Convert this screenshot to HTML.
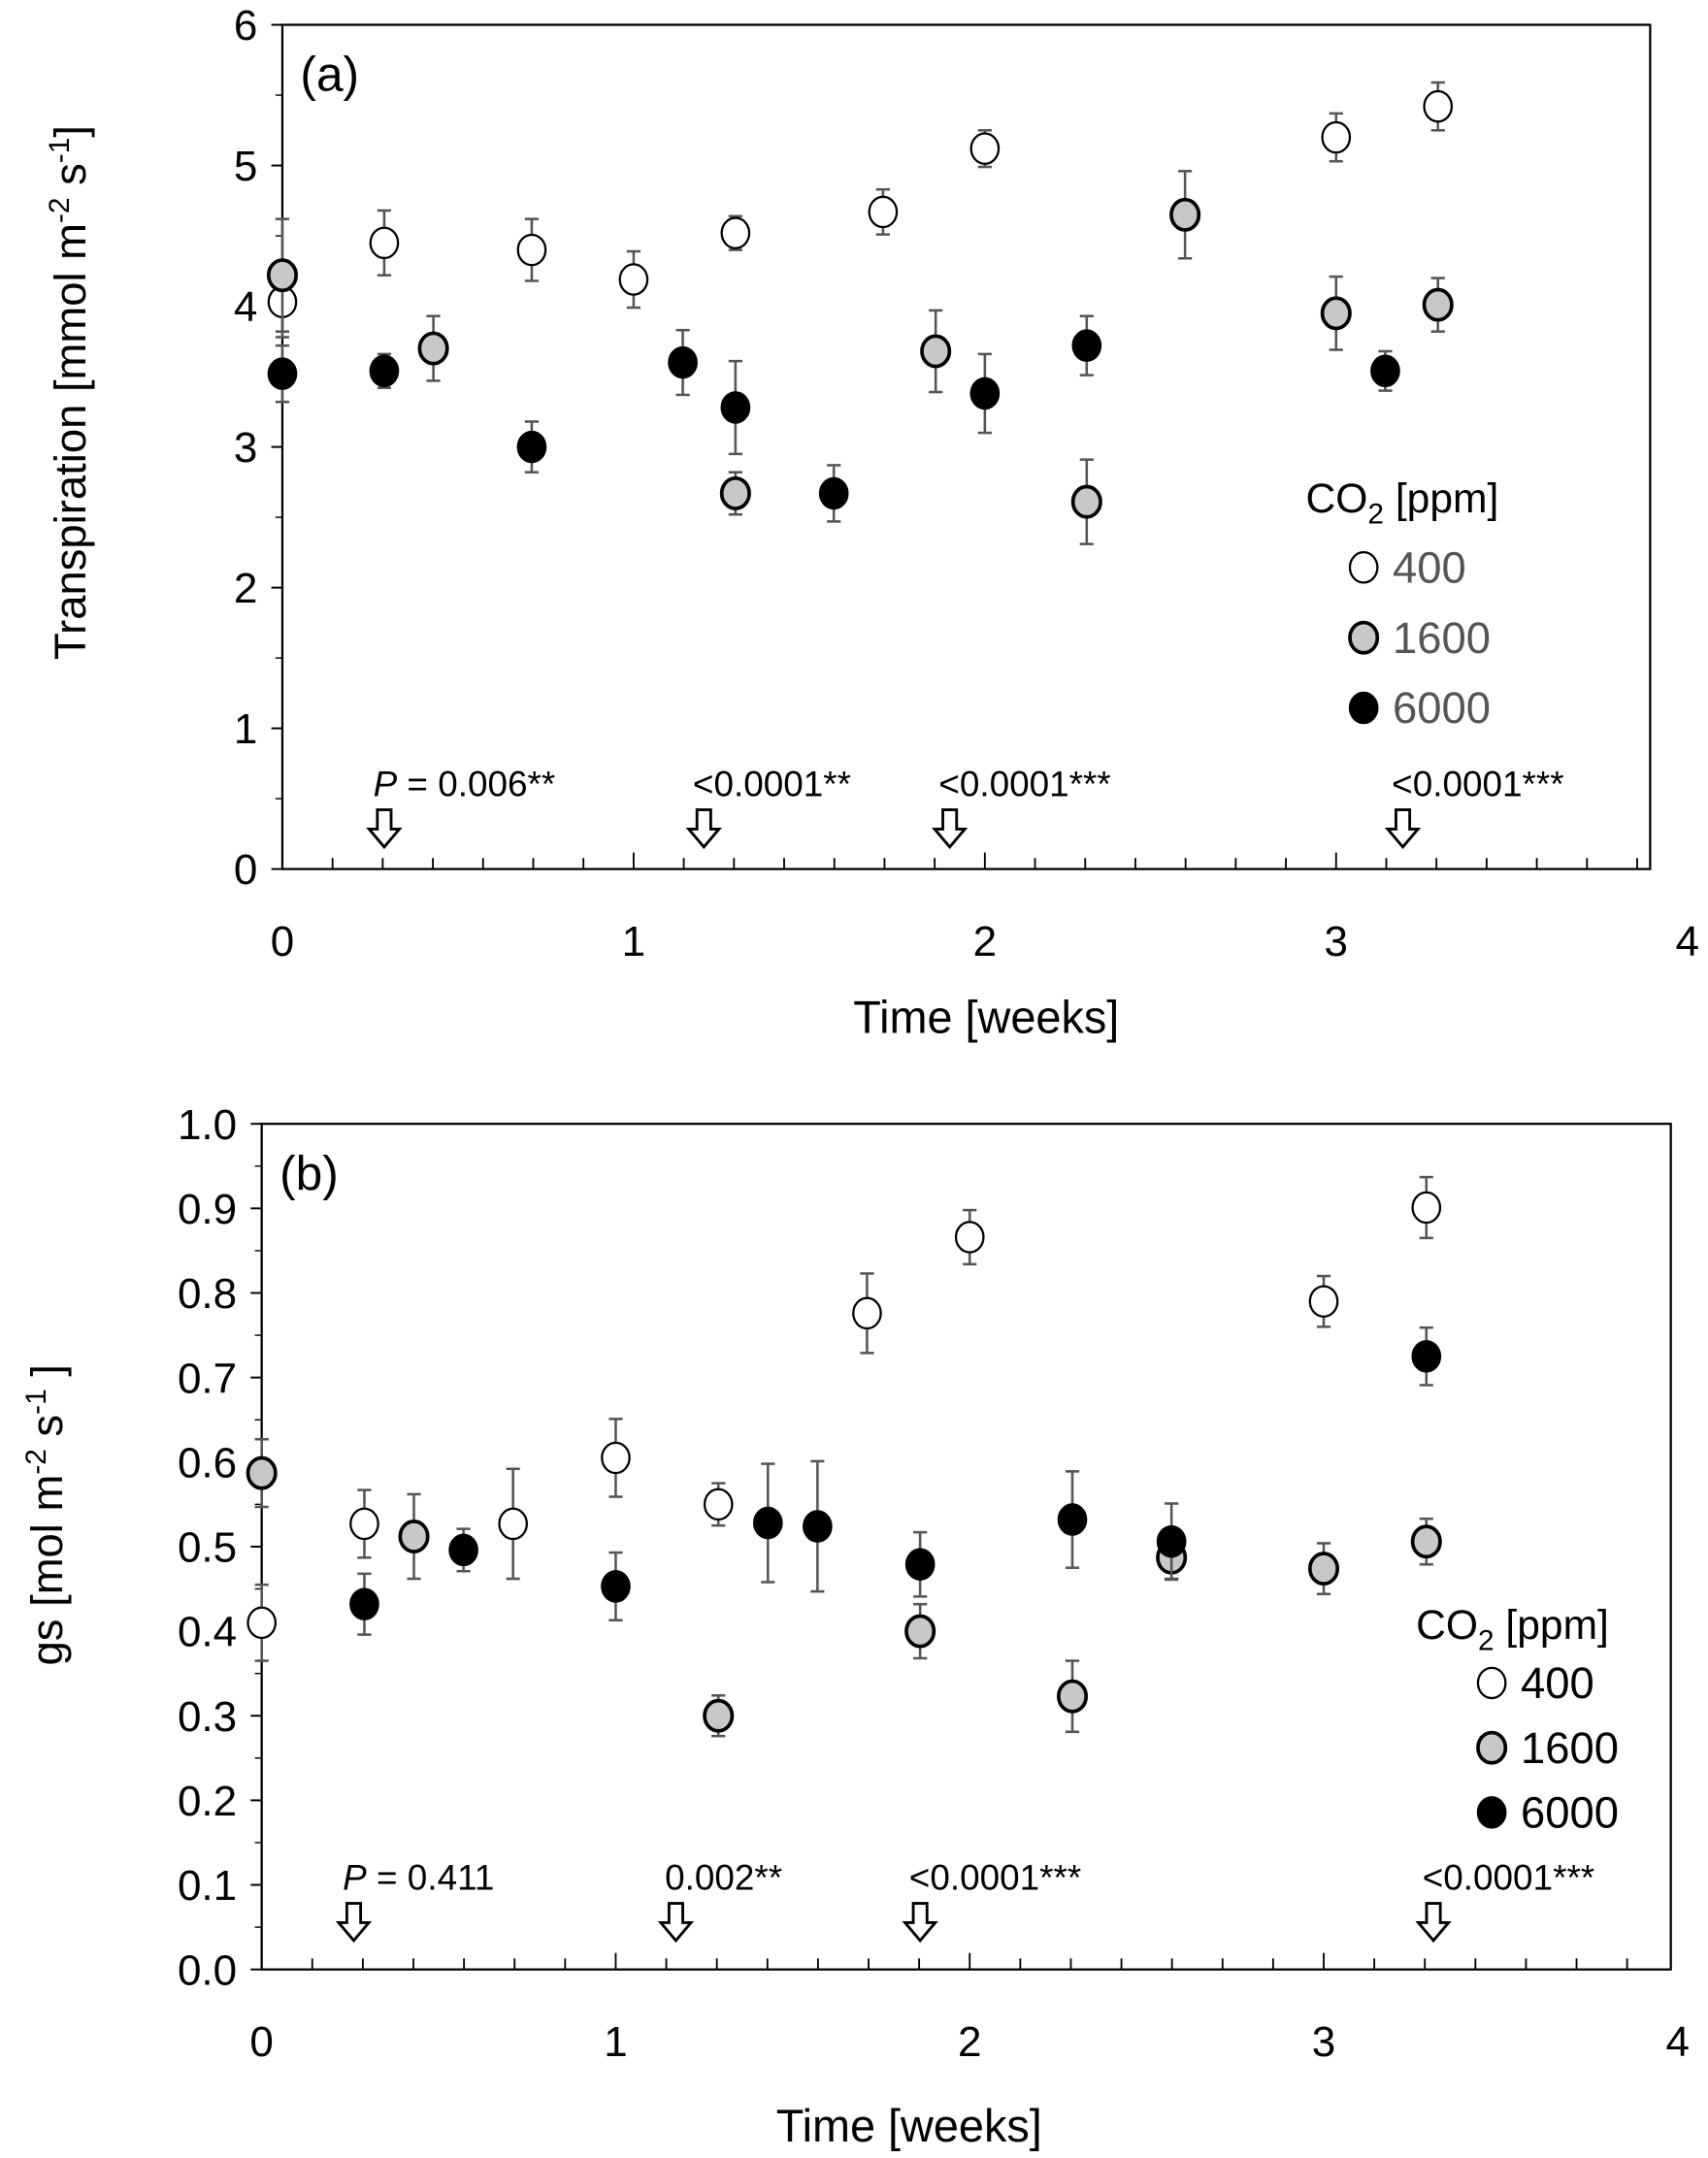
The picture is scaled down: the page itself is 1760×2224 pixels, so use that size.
<!DOCTYPE html>
<html><head><meta charset="utf-8"><style>
html,body{margin:0;padding:0;background:#fff}
svg{display:block}
text{font-family:"Liberation Sans",sans-serif}
</style></head><body>
<svg id="chart" width="1760" height="2224" viewBox="0 0 1240 1566.9" xmlns="http://www.w3.org/2000/svg"></svg>
<script>
// ---------- Panel (a) data: Transpiration ----------
const aX400 = [0,0.29,0.71,1,1.29,1.71,2,3,3.29];
const aY400 = [4.03,4.45,4.4,4.19,4.52,4.67,5.12,5.2,5.42];
const aE400 = [0.25,0.23,0.22,0.2,0.12,0.16,0.13,0.17,0.17];
const aX1600 = [0,0.43,1.29,1.86,2.29,2.57,3,3.29];
const aY1600 = [4.22,3.7,2.67,3.68,2.61,4.65,3.95,4.01];
const aE1600 = [0.4,0.23,0.15,0.29,0.3,0.31,0.26,0.19];
const aX6000 = [0,0.29,0.71,1.14,1.29,1.57,2,2.29,3.14];
const aY6000 = [3.52,3.54,3.0,3.6,3.28,2.67,3.38,3.72,3.54];
const aE6000 = [0.2,0.12,0.18,0.23,0.33,0.2,0.28,0.21,0.14];
const aYTicks = [0,1,2,3,4,5,6];
const aXTicks = [0,1,2,3,4];
const aPx = [0.29,1.2,1.9,3.19];
const aPLabels = ["= 0.006**","<0.0001**","<0.0001***","<0.0001***"];
// ---------- Panel (b) data: gs ----------
const bX400 = [0,0.29,0.71,1,1.29,1.71,2,3,3.29];
const bY400 = [0.41,0.527,0.527,0.605,0.55,0.776,0.866,0.79,0.901];
const bE400 = [0.045,0.04,0.065,0.046,0.025,0.047,0.032,0.03,0.036];
const bX1600 = [0,0.43,1.29,1.86,2.29,2.57,3,3.29];
const bY1600 = [0.587,0.512,0.3,0.4,0.323,0.487,0.474,0.506];
const bE1600 = [0.04,0.05,0.024,0.032,0.042,0.025,0.03,0.027];
const bX6000 = [0.29,0.57,1,1.43,1.57,1.86,2.29,2.57,3.29];
const bY6000 = [0.432,0.496,0.453,0.528,0.524,0.479,0.532,0.506,0.725];
const bE6000 = [0.036,0.025,0.04,0.07,0.077,0.038,0.057,0.045,0.034];
const bYTicks = [0,0.1,0.2,0.3,0.4,0.5,0.6,0.7,0.8,0.9,1.0];
const bXTicks = [0,1,2,3,4];
const bPx = [0.26,1.17,1.86,3.31];
const bPLabels = ["= 0.411","0.002**","<0.0001***","<0.0001***"];

const NS="http://www.w3.org/2000/svg";
const svg=document.getElementById('chart');
function mk(tag,attrs,parent,txt){const e=document.createElementNS(NS,tag);for(const k in attrs)e.setAttribute(k,attrs[k]);if(txt!==undefined)e.textContent=txt;(parent||svg).appendChild(e);return e;}

function panel(cfg){
  const g=mk('g',{});
  
  
  const X=v=>cfg.L+v*cfg.xu, Y=v=>cfg.B-(v-cfg.ymin)/(cfg.ymax-cfg.ymin)*(cfg.B-cfg.T);
  const frame=mk('rect',{x:cfg.L,y:cfg.T,width:cfg.R-cfg.L,height:cfg.B-cfg.T,fill:'none',stroke:'#000','stroke-width':1.6},g);
  
  
  cfg.yt.forEach((v,i)=>{
    mk('line',{x1:cfg.L-8,x2:cfg.L,y1:Y(v),y2:Y(v),stroke:'#000','stroke-width':1.4},g);
    if(i<cfg.yt.length-1){const m=(v+cfg.yt[i+1])/2;mk('line',{x1:cfg.L-5,x2:cfg.L,y1:Y(m),y2:Y(m),stroke:'#000','stroke-width':1},g);}
    const t=mk('text',{x:cfg.L-18,y:Y(v)+11,'font-size':31,'text-anchor':'end'},g,cfg.fmt(v));
    
    
  });
  for(let d=1;d<28;d++){const x=X(d/7);if(x>=cfg.R)break;mk('line',{x1:x,x2:x,y1:cfg.B,y2:cfg.B-(d%7==0?12:8),stroke:'#000','stroke-width':1.3},g);}
  cfg.xt.forEach(v=>{
    const t=mk('text',{x:X(v),y:cfg.B+63,'font-size':31,'text-anchor':'middle'},g,String(v));
    
    
  });
  const xt=mk('text',{x:cfg.xtx,y:cfg.xty,'font-size':33,'text-anchor':'middle'},g,'Time [weeks]');
  
  
  const yt=mk('text',{transform:`translate(${cfg.ytx},${cfg.yty}) rotate(-90)`,'font-size':32,'text-anchor':'middle'},g);
  
  
  yt.innerHTML=cfg.ytitle;
  const pl=mk('text',{x:cfg.L+13,y:cfg.T+48,'font-size':35},g,cfg.label);
  
  
  const series=[[cfg.x400,cfg.y400,cfg.e400,'#fff','series-400'],[cfg.x1600,cfg.y1600,cfg.e1600,'#c8c8c8','series-1600'],[cfg.x6000,cfg.y6000,cfg.e6000,'#000','series-6000']];
  series.forEach(([xs,ys,es,fill,nm])=>{
    const sg=mk('g',{},g);
    
    
    xs.forEach((xv,i)=>{
      const cx=X(xv),cy=Y(ys[i]),e=es[i]*(cfg.B-cfg.T)/(cfg.ymax-cfg.ymin);
      mk('line',{x1:cx,x2:cx,y1:cy-e,y2:cy+e,stroke:'#555','stroke-width':1.8},sg);
      mk('line',{x1:cx-5,x2:cx+5,y1:cy-e,y2:cy-e,stroke:'#555','stroke-width':1.8},sg);
      mk('line',{x1:cx-5,x2:cx+5,y1:cy+e,y2:cy+e,stroke:'#555','stroke-width':1.8},sg);
      const c=mk('ellipse',{cx:cx,cy:cy,rx:10,ry:11,fill:fill,stroke:'#000','stroke-width':fill=='#c8c8c8'?2.6:1.6},sg);
      
      
    });
  });
  cfg.px.forEach((xv,i)=>{
    const x=X(xv);
    const a=mk('path',{d:`M${x-5} ${cfg.ay} h10 v14 h6 l-11 13 l-11 -13 h6 z`,fill:'#fff',stroke:'#000','stroke-width':2},g);
    
    
    const t=mk('text',{x:x+cfg.poff[i],y:cfg.ay-10,'font-size':26},g);
    
    
    if(i==0){t.innerHTML='<tspan font-style="italic">P</tspan> '+cfg.pl[i];}else t.textContent=cfg.pl[i];
  });
  const lg=mk('g',{},g);
  
  
  mk('text',{x:cfg.lgx,y:cfg.lgy,'font-size':30},lg).innerHTML='CO<tspan font-size="21" dy="8">2</tspan><tspan dy="-8"> [ppm]</tspan>';
  [['#fff','400'],['#c8c8c8','1600'],['#000','6000']].forEach(([f,l],i)=>{
    const ey=cfg.lgfirst+i*cfg.lgdy;
    const en=mk('g',{},lg);
    
    
    mk('ellipse',{cx:cfg.lgmx,cy:ey,rx:10,ry:11,fill:f,stroke:'#000','stroke-width':f=='#c8c8c8'?2.6:1.6},en);
    mk('text',{x:cfg.lgmx+21,y:ey+11,'font-size':32,fill:cfg.lgcol},en,l);
  });
}

panel({name:'panel-a-transpiration',L:205,R:1198,T:18,B:631,xu:255,ymin:0,ymax:6,yt:aYTicks,xt:aXTicks,fmt:v=>String(v),
  xtx:716,xty:750,ytx:62,yty:285,ytitle:'Transpiration [mmol m<tspan font-size="21" dy="-12">-2</tspan><tspan dy="12"> s</tspan><tspan font-size="21" dy="-12">-1</tspan><tspan dy="12">]</tspan>',label:'(a)',
  x400:aX400,y400:aY400,e400:aE400,x1600:aX1600,y1600:aY1600,e1600:aE1600,x6000:aX6000,y6000:aY6000,e6000:aE6000,
  px:aPx,pl:aPLabels,ay:588,poff:[-8,-8,-8,-8],lgx:948,lgy:372,lgfirst:412,lgdy:51,lgmx:990,lgcol:'#555'});
panel({name:'panel-b-gs',L:190,R:1213,T:816,B:1430,xu:257,ymin:0,ymax:1,yt:bYTicks,xt:bXTicks,fmt:v=>v.toFixed(1),
  xtx:660,xty:1555,ytx:45,yty:1100,ytitle:'gs [mol m<tspan font-size="21" dy="-12">-2</tspan><tspan dy="12"> s</tspan><tspan font-size="21" dy="-12">-1</tspan><tspan dy="12"> ]</tspan>',label:'(b)',
  x400:bX400,y400:bY400,e400:bE400,x1600:bX1600,y1600:bY1600,e1600:bE1600,x6000:bX6000,y6000:bY6000,e6000:bE6000,
  px:bPx,pl:bPLabels,ay:1382,poff:[-8,-8,-8,-8],lgx:1028,lgy:1190,lgfirst:1222,lgdy:47,lgmx:1083,lgcol:'#000'});
</script>
</body></html>
